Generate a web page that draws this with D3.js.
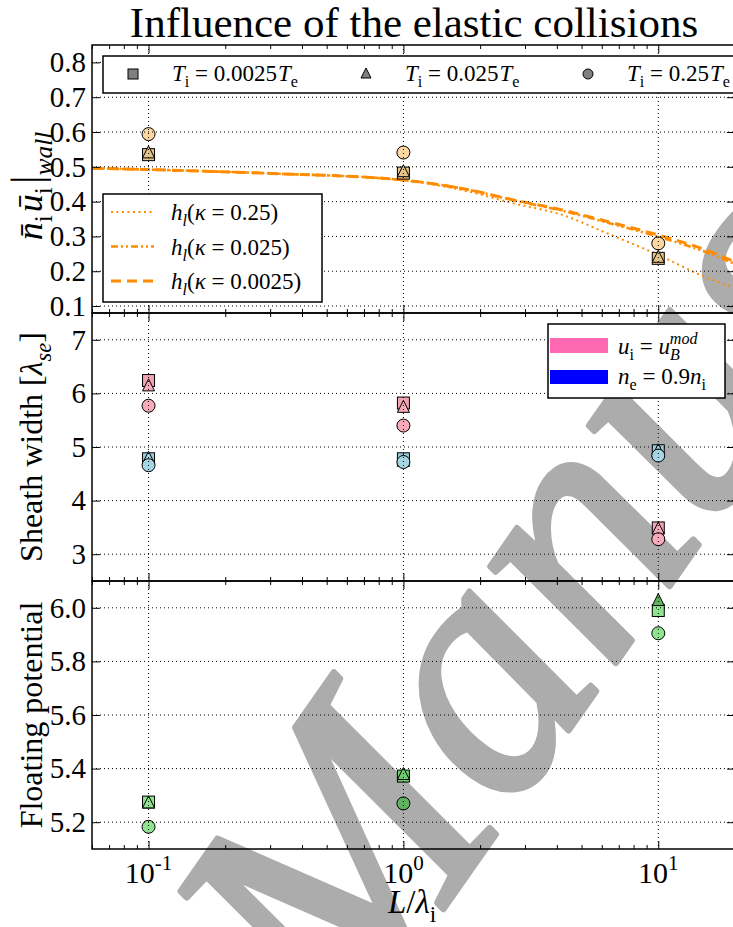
<!DOCTYPE html>
<html>
<head>
<meta charset="utf-8">
<script src="https://cdn.jsdelivr.net/npm/d3@7"></script>
<style>
body { margin: 0; background: #fff; }
svg { display: block; font-family: "Liberation Serif", "Times New Roman", serif; }
</style>
</head>
<body>
<script>
// x positions of the simulations (L / lambda_i)
var xValues = [0.1, 1, 10];
var xTickValues = [0.1, 1, 10];
var xTickExponents = ["-1", "0", "1"];

// top panel : flux at the wall
var fluxT0025 = [0.535, 0.482, 0.237];
var fluxT025 = [0.540, 0.486, 0.240];
var fluxT25 = [0.594, 0.541, 0.280];

// h_l curves
var hlX = [0.06, 0.1, 0.3, 1, 1.8, 2.7, 4.2, 6.3, 10, 15, 20];
var hlK025 = [0.496, 0.492, 0.481, 0.461, 0.429, 0.395, 0.362, 0.309, 0.247, 0.186, 0.152];
var hlK0025 = [0.496, 0.492, 0.481, 0.462, 0.434, 0.404, 0.374, 0.340, 0.299, 0.258, 0.221];
var hlK00025 = [0.496, 0.492, 0.481, 0.462, 0.434, 0.405, 0.376, 0.343, 0.304, 0.264, 0.227];

// middle panel : sheath width
var sheathUbT0025 = [6.24, 5.82, 3.49];
var sheathUbT025 = [6.14, 5.74, 3.47];
var sheathUbT25 = [5.77, 5.40, 3.28];
var sheathNeT0025 = [4.78, 4.78, 4.93];
var sheathNeT025 = [4.79, 4.73, 4.93];
var sheathNeT25 = [4.66, 4.72, 4.84];

// bottom panel : floating potential
var floatT0025 = [5.275, 5.372, 5.990];
var floatT025 = [5.272, 5.378, 6.027];
var floatT25 = [5.183, 5.270, 5.905];

var topTicks = [0.1, 0.2, 0.3, 0.4, 0.5, 0.6, 0.7, 0.8];
var midTicks = [3, 4, 5, 6, 7];
var botTicks = [5.2, 5.4, 5.6, 5.8, 6.0];

var tempLabels = ["0.0025", "0.025", "0.25"];
var kappaLabels = ["0.25", "0.025", "0.0025"];

var W = 733, H = 927;
var left = 92, right = 735;

var svg = d3.select("body").append("svg")
    .attr("width", W)
    .attr("height", H);

var x = d3.scaleLog().domain([0.06, 20]).range([left, right]);

var yTop = d3.scaleLinear().domain([0.08, 0.85]).range([313, 45]);
var yMid = d3.scaleLinear().domain([2.5, 7.5]).range([581, 313]);
var yBot = d3.scaleLinear().domain([5.1, 6.1]).range([849, 581]);

svg.append("clipPath").attr("id", "clip")
  .append("rect").attr("x", left).attr("y", 45).attr("width", right - left).attr("height", 849 - 45);

// text with sub / superscripts
function rich(sel, parts, fs) {
  var shift = 0;
  parts.forEach(function(p) {
    var target = p.sub ? fs * 0.28 : (p.sup ? -fs * 0.42 : 0);
    var ts = sel.append("tspan").text(p.t).attr("dy", target - shift);
    shift = target;
    if (p.sub || p.sup) ts.attr("font-size", fs * 0.7);
    if (p.big) ts.attr("font-size", fs * p.big);
    if (p.it) ts.attr("font-style", "italic");
    if (p.dx) ts.attr("dx", p.dx);
  });
}

function marker(g, shape, cx, cy, fill, s) {
  var m;
  if (shape == "square") {
    m = g.append("rect").attr("x", cx - s / 2).attr("y", cy - s / 2).attr("width", s).attr("height", s);
  } else if (shape == "triangle") {
    var h = s;
    m = g.append("path").attr("d", "M" + cx + "," + (cy - h / 2 - 1) + "L" + (cx + s / 2) + "," + (cy + h / 2 - 1) + "L" + (cx - s / 2) + "," + (cy + h / 2 - 1) + "Z");
  } else {
    m = g.append("circle").attr("cx", cx).attr("cy", cy).attr("r", s / 2);
  }
  m.attr("fill", fill).attr("stroke", "#000").attr("stroke-width", 1);
  return m;
}

var panels = [
  { y: yTop, ticks: topTicks, fmt: d3.format(".1f") },
  { y: yMid, ticks: midTicks, fmt: d3.format("d") },
  { y: yBot, ticks: botTicks, fmt: d3.format(".1f") }
];

var minorTicks = x.ticks().filter(function(d) { return xTickValues.indexOf(d) < 0; });

// watermark layer, under the data
var wm = svg.append("g");
wm.append("text")
  .attr("transform", "translate(345,1050) rotate(-55)")
  .attr("font-size", 345)
  .attr("font-style", "italic")
  .attr("fill", "#acacac")
  .attr("stroke", "#acacac")
  .attr("stroke-width", 6)
  .attr("stroke-linejoin", "round")
  .text("Manuscript");

var plotLayer = svg.append("g").attr("clip-path", "url(#clip)");

// h_l curves
var line = d3.line()
    .x(function(d) { return x(d[0]); })
    .y(function(d) { return yTop(d[1]); })
    .curve(d3.curveMonotoneX);

var hlSeries = [
  { v: hlK025, dash: "2,3.5", w: 2 },
  { v: hlK0025, dash: "7,3,2,3,2,3", w: 2.6 },
  { v: hlK00025, dash: "10,6", w: 3 }
];
hlSeries.forEach(function(s) {
  plotLayer.append("path")
    .datum(hlX.map(function(d, i) { return [d, s.v[i]]; }))
    .attr("d", line)
    .attr("fill", "none")
    .attr("stroke", "#ff8c00")
    .attr("stroke-width", s.w)
    .attr("stroke-dasharray", s.dash);
});

// markers
var shapes = ["square", "triangle", "circle"];
var markerSets = [
  { y: yTop, vals: [fluxT0025, fluxT025, fluxT25],
    fills: [["#e6c28c", "#e6c28c", "#e6c28c"], ["#e6c28c", "#e6c28c", "#e6c28c"], ["#fdd7a0", "#fdd7a0", "#fdd7a0"]] },
  { y: yMid, vals: [sheathUbT0025, sheathUbT025, sheathUbT25],
    fills: [["#f2a3b3", "#f2a3b3", "#f2a3b3"], ["#f7abba", "#f7abba", "#f7abba"], ["#f7abba", "#f7abba", "#f7abba"]] },
  { y: yMid, vals: [sheathNeT0025, sheathNeT025, sheathNeT25],
    fills: [["#9ccbd9", "#9ccbd9", "#9ccbd9"], ["#a6d6e4", "#a6d6e4", "#a6d6e4"], ["#a6d6e4", "#a6d6e4", "#a6d6e4"]] },
  { y: yBot, vals: [floatT0025, floatT025, floatT25],
    fills: [["#8fe58f", "#6fcd6f", "#8fe58f"], ["#8fe58f", "#6fcd6f", "#5fb35f"], ["#8fe58f", "#5fb35f", "#8fe58f"]] }
];
markerSets.forEach(function(set) {
  set.vals.forEach(function(vals, k) {
    vals.forEach(function(v, i) {
      marker(plotLayer, shapes[k], x(xValues[i]), set.y(v), set.fills[k][i], shapes[k] == "circle" ? 13 : 12);
    });
  });
});

// grid, ticks, frames
panels.forEach(function(p) {
  var r = p.y.range();
  var gb = r[0], gt = r[1];
  var g = svg.append("g");

  g.selectAll(".vgrid").data(xTickValues).enter().append("line")
    .attr("x1", function(d) { return x(d); }).attr("x2", function(d) { return x(d); })
    .attr("y1", gt).attr("y2", gb)
    .attr("stroke", "#000").attr("stroke-width", 1).attr("stroke-dasharray", "1,3");
  g.selectAll(".hgrid").data(p.ticks).enter().append("line")
    .attr("x1", left).attr("x2", right)
    .attr("y1", function(d) { return p.y(d); }).attr("y2", function(d) { return p.y(d); })
    .attr("stroke", "#000").attr("stroke-width", 1).attr("stroke-dasharray", "1,3");

  // x ticks, inward, top and bottom
  g.append("g").attr("transform", "translate(0," + gb + ")")
    .call(d3.axisBottom(x).tickValues(xTickValues).tickSize(-8).tickFormat(""));
  g.append("g").attr("transform", "translate(0," + gb + ")")
    .call(d3.axisBottom(x).tickValues(minorTicks).tickSize(-4).tickFormat(""));
  g.append("g").attr("transform", "translate(0," + gt + ")")
    .call(d3.axisTop(x).tickValues(xTickValues).tickSize(-8).tickFormat(""));
  g.append("g").attr("transform", "translate(0," + gt + ")")
    .call(d3.axisTop(x).tickValues(minorTicks).tickSize(-4).tickFormat(""));

  // y ticks and labels
  var ya = g.append("g").attr("transform", "translate(" + left + ",0)")
    .call(d3.axisLeft(p.y).tickValues(p.ticks).tickSize(-8).tickPadding(6).tickFormat(p.fmt));
  ya.selectAll("text").attr("font-size", 29).attr("font-family", "Liberation Serif").attr("fill", "#000");
  g.append("g").attr("transform", "translate(" + right + ",0)")
    .call(d3.axisRight(p.y).tickValues(p.ticks).tickSize(-8).tickFormat(""));

  g.selectAll(".domain").remove();
  g.selectAll(".tick line").attr("stroke", "#000").attr("stroke-width", 1);

  g.append("rect")
    .attr("x", left).attr("y", gt).attr("width", right - left).attr("height", gb - gt)
    .attr("fill", "none").attr("stroke", "#000").attr("stroke-width", 1.5);
});

// x tick labels
xTickValues.forEach(function(d, i) {
  var t = svg.append("text")
    .attr("x", x(d)).attr("y", 883)
    .attr("text-anchor", "middle")
    .attr("font-size", 30);
  rich(t, [{ t: "10" }, { t: xTickExponents[i], sup: true }], 30);
});

// title
svg.append("text")
  .attr("x", 414).attr("y", 37)
  .attr("text-anchor", "middle")
  .attr("font-size", 43)
  .text("Influence of the elastic collisions");

// axis labels
var yl1 = svg.append("text")
  .attr("transform", "translate(42,186) rotate(-90)")
  .attr("text-anchor", "middle").attr("font-size", 36);
rich(yl1, [{ t: "n\u0304", it: true }, { t: "i", sub: true }, { t: "u\u0304", it: true, dx: 3 }, { t: "i", sub: true },
  { t: "|", big: 1.25, dx: 3 }, { t: "wall", sub: true, it: true }], 36);

var yl2 = svg.append("text")
  .attr("transform", "translate(42,447) rotate(-90)")
  .attr("text-anchor", "middle").attr("font-size", 32);
rich(yl2, [{ t: "Sheath width [" }, { t: "\u03bb", it: true }, { t: "se", sub: true, it: true }, { t: "]" }], 32);

svg.append("text")
  .attr("transform", "translate(42,715) rotate(-90)")
  .attr("text-anchor", "middle").attr("font-size", 32)
  .text("Floating potential");

var xl = svg.append("text")
  .attr("x", 412).attr("y", 913)
  .attr("text-anchor", "middle").attr("font-size", 33);
rich(xl, [{ t: "L", it: true }, { t: "/" }, { t: "\u03bb", it: true }, { t: "i", sub: true }], 33);

// legend: ion temperature
var lg1 = svg.append("g");
lg1.append("rect").attr("x", 103).attr("y", 56).attr("width", 650).attr("height", 37)
  .attr("fill", "#fff").attr("stroke", "#000").attr("stroke-width", 1.5);
var lgMarkX = [133, 366, 588];
tempLabels.forEach(function(lab, k) {
  marker(lg1, shapes[k], lgMarkX[k], 74, "#808080", 10);
  var t = lg1.append("text").attr("x", lgMarkX[k] + 39).attr("y", 81).attr("font-size", 23);
  rich(t, [{ t: "T", it: true }, { t: "i", sub: true }, { t: " = " + lab }, { t: "T", it: true, dx: 1 }, { t: "e", sub: true }], 23);
});

// legend: h_l
var lg2 = svg.append("g");
lg2.append("rect").attr("x", 103).attr("y", 194).attr("width", 219).attr("height", 108)
  .attr("fill", "#fff").attr("stroke", "#000").attr("stroke-width", 1.5);
hlSeries.forEach(function(s, k) {
  var yy = 212 + k * 34.5;
  lg2.append("line").attr("x1", 111).attr("x2", 154).attr("y1", yy).attr("y2", yy)
    .attr("stroke", "#ff8c00").attr("stroke-width", s.w).attr("stroke-dasharray", s.dash);
  var t = lg2.append("text").attr("x", 171).attr("y", yy + 8).attr("font-size", 23);
  rich(t, [{ t: "h", it: true }, { t: "l", sub: true, it: true }, { t: "(" }, { t: "\u03ba", it: true }, { t: " = " + kappaLabels[k] + ")" }], 23);
});

// legend: sheath criteria
var lg3 = svg.append("g");
lg3.append("rect").attr("x", 548).attr("y", 324).attr("width", 177).attr("height", 74)
  .attr("fill", "#fff").attr("stroke", "#000").attr("stroke-width", 1.5);
lg3.append("rect").attr("x", 550).attr("y", 338).attr("width", 58).attr("height", 15).attr("fill", "#ff69b4");
lg3.append("rect").attr("x", 550).attr("y", 370).attr("width", 58).attr("height", 14).attr("fill", "#0000ff");
var t1 = lg3.append("text").attr("x", 618).attr("y", 354).attr("font-size", 23);
rich(t1, [{ t: "u", it: true }, { t: "i", sub: true }, { t: " = " }, { t: "u", it: true },
  { t: "B", sub: true, it: true }, { t: "mod", sup: true, it: true, dx: -10 }], 23);
var t2 = lg3.append("text").attr("x", 618).attr("y", 384).attr("font-size", 23);
rich(t2, [{ t: "n", it: true }, { t: "e", sub: true }, { t: " = 0.9" }, { t: "n", it: true }, { t: "i", sub: true }], 23);
</script>
</body>
</html>
